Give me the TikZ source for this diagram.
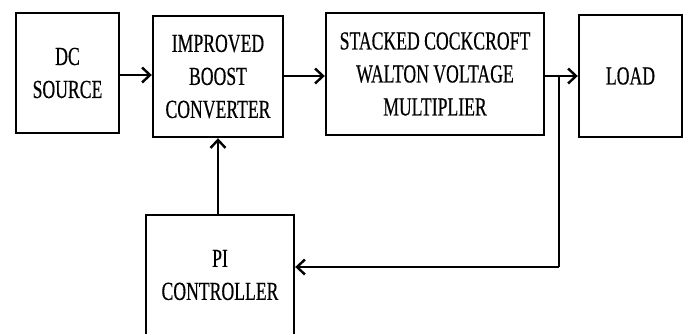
\documentclass[tikz,border=0pt]{standalone}
\usepackage{fontspec}
\setmainfont{Liberation Serif}[FakeStretch=0.68,FakeBold=0.4]
\usetikzlibrary{arrows.meta,calc}
\begin{document}
\begin{tikzpicture}[x=1pt,y=-1pt,
  blk/.style={draw,line width=2.4pt,fill=white,align=center,inner sep=0pt,
    font=\fontsize{26}{33}\selectfont},
  arr/.style={line width=2.4pt,-{Straight Barb[length=8pt,width=15pt,line width=2.4pt]}},
  ln/.style={line width=2.4pt}]
\useasboundingbox (0,0) rectangle (686,333);
\begin{scope}
\clip (0,0) rectangle (686,333);
\node[blk,minimum width=103pt,minimum height=120pt] (dc) at (67.5,73) {DC\\SOURCE};
\node[blk,minimum width=130pt,minimum height=121pt] (boost) at (218,76.5) {IMPROVED\\BOOST\\CONVERTER};
\node[blk,minimum width=218pt,minimum height=122pt] (cw) at (435,74) {STACKED COCKCROFT\\WALTON VOLTAGE\\MULTIPLIER};
\node[blk,minimum width=103pt,minimum height=122pt] (load) at (630.5,76) {LOAD};
\node[blk,minimum width=148pt,minimum height=120pt] (pi) at (220,275) {PI\\CONTROLLER};
\coordinate (j) at (559,76);
\coordinate (fb) at (559,267);
\draw[arr] (dc.east |- 0,75) -- (boost.west |- 0,75);
\draw[arr] (boost.east |- 0,76) -- (cw.west |- 0,76);
\draw[arr] (cw.east |- load.west) -- (load.west);
\draw[ln] (j) -- (fb);
\draw[arr] (fb) -- (pi.east |- fb);
\draw[arr] (boost.south |- pi.north) -- (boost.south);
\end{scope}
\end{tikzpicture}
\end{document}
